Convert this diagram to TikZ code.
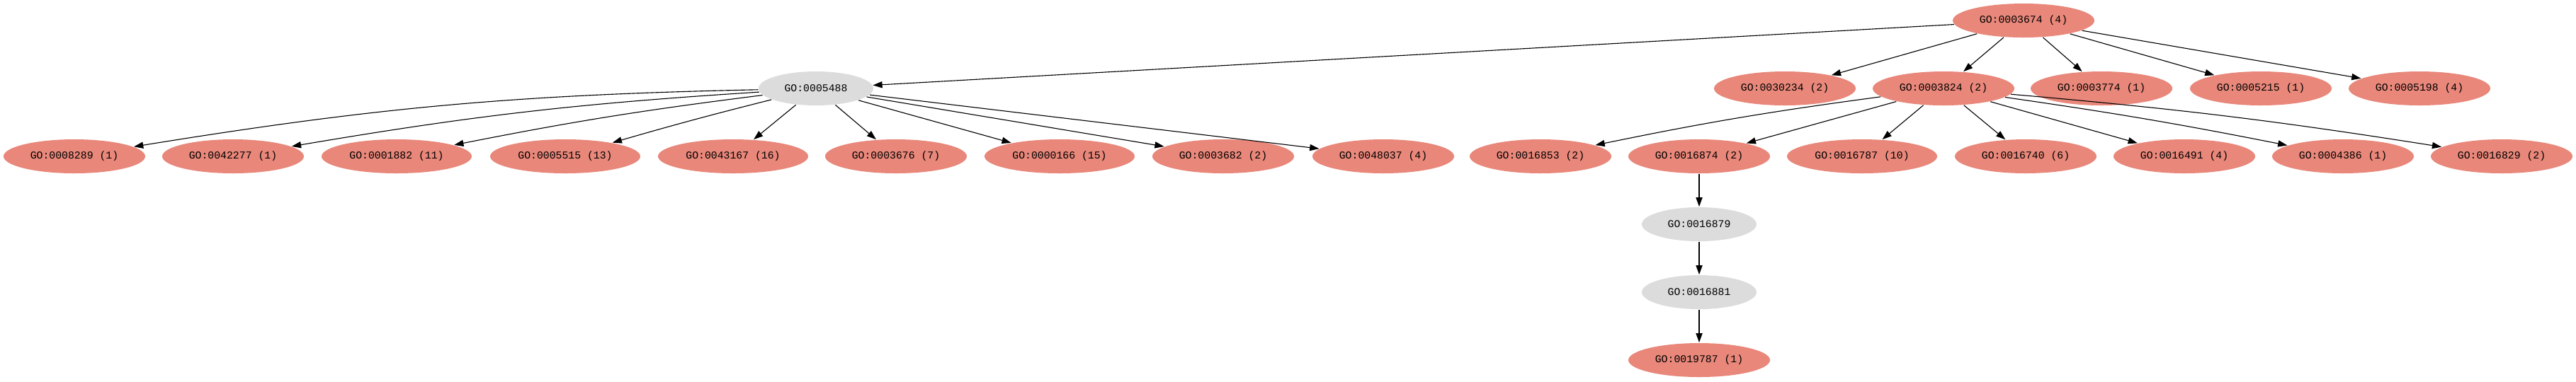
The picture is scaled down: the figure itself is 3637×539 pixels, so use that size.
\documentclass[tikz,border=0pt]{standalone}
\usepackage{fontspec}
\usepackage{tikz}
\usetikzlibrary{shapes.geometric,arrows.meta}
\newfontfamily\gofont{Liberation Mono}
\definecolor{hitfill}{RGB}{232,135,122}
\definecolor{pathfill}{RGB}{220,220,220}
\tikzset{
  term/.style={ellipse, fill=hitfill, minimum width=50pt, minimum height=12pt, inner sep=0pt,
    font=\gofont\fontsize{3.7}{4}\selectfont},
  wideterm/.style={term, minimum width=53pt},
  midterm/.style={term, fill=pathfill, minimum width=40.5pt},
  edge/.style={line width=0.28pt, -{Triangle[length=3.3pt,width=2.3pt]}}
}
\begin{document}
\begin{tikzpicture}[x=0.25pt,y=-0.25pt]
\useasboundingbox (0,0) rectangle (3637,539);

\node[term] (g3674) at (2857,29) {GO:0003674 (4)};

\node[midterm] (g5488) at (1152,125) {GO:0005488};
\node[term] (g30234) at (2520,125) {GO:0030234 (2)};
\node[term] (g3824) at (2744,125) {GO:0003824 (2)};
\node[term] (g3774) at (2967,125) {GO:0003774 (1)};
\node[term] (g5215) at (3192,125) {GO:0005215 (1)};
\node[term] (g5198) at (3416,125) {GO:0005198 (4)};

\node[term] (g8289) at (105,221) {GO:0008289 (1)};
\node[term] (g42277) at (329,221) {GO:0042277 (1)};
\node[wideterm] (g1882) at (560,221) {GO:0001882 (11)};
\node[wideterm] (g5515) at (798,221) {GO:0005515 (13)};
\node[wideterm] (g43167) at (1035,221) {GO:0043167 (16)};
\node[term] (g3676) at (1265,221) {GO:0003676 (7)};
\node[wideterm] (g166) at (1496,221) {GO:0000166 (15)};
\node[term] (g3682) at (1727,221) {GO:0003682 (2)};
\node[term] (g48037) at (1953,221) {GO:0048037 (4)};
\node[term] (g16853) at (2175,221) {GO:0016853 (2)};
\node[term] (g16874) at (2399,221) {GO:0016874 (2)};
\node[wideterm] (g16787) at (2629,221) {GO:0016787 (10)};
\node[term] (g16740) at (2860,221) {GO:0016740 (6)};
\node[term] (g16491) at (3084,221) {GO:0016491 (4)};
\node[term] (g4386) at (3308,221) {GO:0004386 (1)};
\node[term] (g16829) at (3532,221) {GO:0016829 (2)};

\node[midterm] (g16879) at (2399,317) {GO:0016879};
\node[midterm] (g16881) at (2399,413) {GO:0016881};
\node[term] (g19787) at (2399,509) {GO:0019787 (1)};

\foreach \from/\to in {g3674/g5488, g3674/g30234, g3674/g3824, g3674/g3774, g3674/g5215, g3674/g5198, g5488/g43167, g5488/g3676, g5488/g166, g5488/g3682, g5488/g48037, g3824/g16874, g3824/g16787, g3824/g16740, g3824/g16491, g16874/g16879, g16879/g16881, g16881/g19787}
	\draw[edge] (\from) -- (\to);

\foreach \from/\to/\bend in {g5488/g8289/4, g5488/g42277/3, g5488/g1882/2, g5488/g5515/1, g3824/g16853/2, g3824/g4386/-1.5, g3824/g16829/-2}
	\draw[edge] (\from) to[bend right=\bend] (\to);
\end{tikzpicture}
\end{document}
